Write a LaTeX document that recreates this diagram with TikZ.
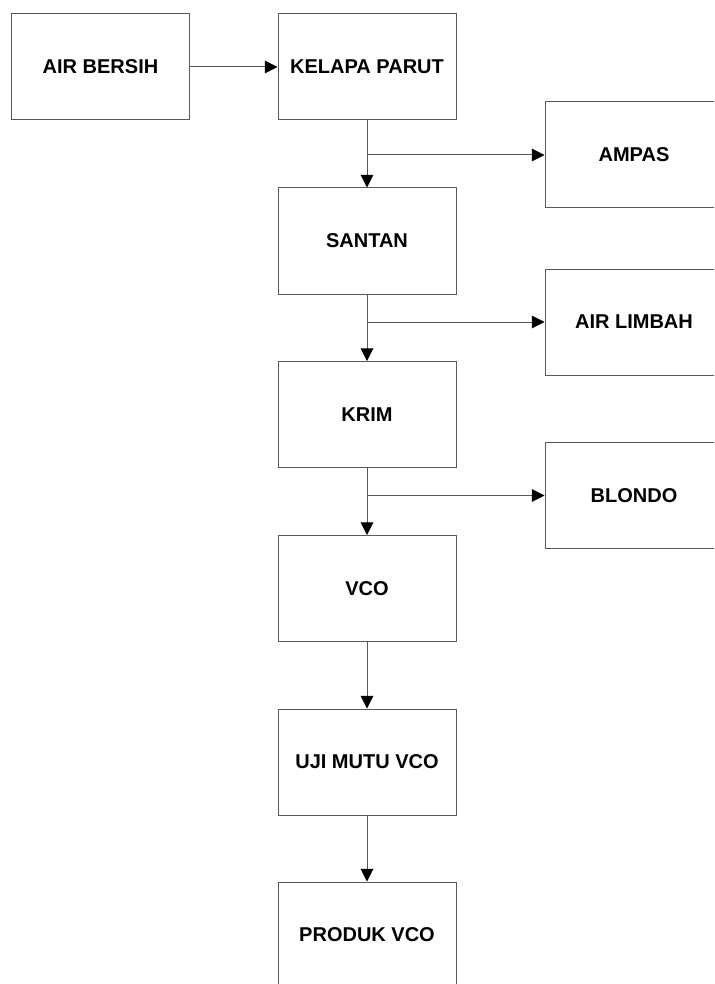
\documentclass[tikz,border=0pt]{standalone}
\usepackage{fontspec}
\setmainfont{Liberation Sans}
\usepackage{tikz}
\usetikzlibrary{arrows.meta,positioning}

\begin{document}
\begin{tikzpicture}[
x=0.75pt, y=-0.75pt,
box/.style={draw=black!65, line width=0.75pt, align=center, minimum width=133.5pt, minimum height=79.5pt, inner sep=0pt, font=\bfseries\fontsize{15pt}{18pt}\selectfont},
arrow/.style={-{Triangle[length=9.5pt, width=9.5pt, color=black]}, draw=black!65, line width=0.75pt}
]
\useasboundingbox (0,0) rectangle (714,984);
\clip (0,0) rectangle (714,984);
\node[box] (air) at (100.5,67) {AIR BERSIH};
\node[box] (kelapa) at (367,67) {KELAPA PARUT};
\node[box] (santan) at (367,241) {SANTAN};
\node[box] (krim) at (367,414.5) {KRIM};
\node[box] (vco) at (367,588.5) {VCO};
\node[box] (uji) at (367,762) {UJI MUTU VCO};
\node[box] (produk) at (367,935) {PRODUK VCO};
\node[box] (ampas) at (634,155) {AMPAS};
\node[box] (limbah) at (634,322) {AIR LIMBAH};
\node[box] (blondo) at (634,495.5) {BLONDO};
\coordinate (b1) at (kelapa.south |- ampas.west);
\coordinate (b2) at (santan.south |- limbah.west);
\coordinate (b3) at (krim.south |- blondo.west);
\draw[arrow] (air) -- (kelapa);
\draw[arrow] (kelapa) -- (santan);
\draw[arrow] (b1) -- (ampas);
\draw[arrow] (santan) -- (krim);
\draw[arrow] (b2) -- (limbah);
\draw[arrow] (krim) -- (vco);
\draw[arrow] (b3) -- (blondo);
\draw[arrow] (vco) -- (uji);
\draw[arrow] (uji) -- (produk);
\end{tikzpicture}
\end{document}
